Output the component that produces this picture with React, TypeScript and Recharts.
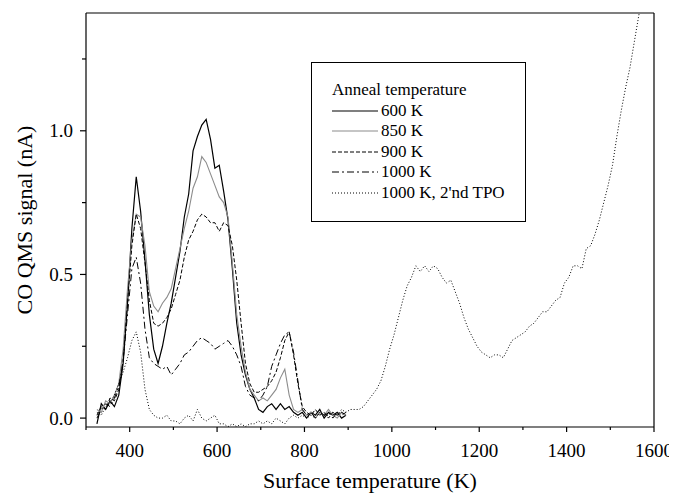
import React from "react";
import { Legend, Line, LineChart, ReferenceLine, XAxis, YAxis } from "recharts";

// sample temperatures (K) shared by the four anneal runs
const TEMPS = [
  325, 335, 345, 355, 365, 375, 385, 395, 405, 415, 425, 435, 445, 455, 465, 475, 485, 495, 505, 515,
  525, 535, 545, 555, 565, 575, 585, 595, 605, 615, 625, 635, 645, 655, 665, 675, 685, 695, 705, 715,
  725, 735, 745, 755, 765, 775, 785, 795, 805, 815, 825, 835, 845, 855, 865, 875, 885, 895,
];
// the second TPO runs on to higher temperature
const TEMPS_TPO_HIGH = [
  905, 915, 925, 935, 945, 955, 965, 975, 985, 995, 1005, 1015, 1025, 1035, 1045, 1055, 1065, 1075,
  1085, 1095, 1105, 1115, 1125, 1135, 1145, 1155, 1165, 1175, 1185, 1195, 1205, 1215, 1225, 1235,
  1245, 1255, 1265, 1275, 1285, 1295, 1305, 1315, 1325, 1335, 1345, 1355, 1365, 1375, 1385, 1395,
  1405, 1415, 1425, 1435, 1445, 1455, 1465, 1475, 1485, 1495, 1505, 1515, 1525, 1535, 1545, 1555,
  1565, 1575,
];

const K600 = [
  -0.02, 0.05, 0.03, 0.06, 0.04, 0.08, 0.19, 0.4, 0.66, 0.84, 0.72, 0.55, 0.36, 0.24, 0.19, 0.25, 0.33, 0.4, 0.49, 0.58,
  0.7, 0.78, 0.93, 0.98, 1.02, 1.04, 0.97, 0.87, 0.88, 0.79, 0.69, 0.52, 0.33, 0.22, 0.15, 0.1, 0.07, 0.03, 0.02, 0.04,
  0.05, 0.03, 0.05, 0.03, 0.04, 0.02, 0.01, 0.02, 0.0, 0.02, 0.01, 0.03, 0.0, 0.02, 0.01, 0.02, 0.0, 0.01,
];
const K850 = [
  0.03, 0.02, 0.06, 0.05, 0.08, 0.12, 0.24, 0.45, 0.62, 0.71, 0.7, 0.6, 0.44, 0.39, 0.37, 0.4, 0.42, 0.45, 0.52, 0.59,
  0.66, 0.72, 0.8, 0.84, 0.91, 0.89, 0.85, 0.81, 0.77, 0.75, 0.7, 0.54, 0.36, 0.25, 0.16, 0.1, 0.08, 0.06, 0.07, 0.06,
  0.08, 0.1, 0.14, 0.17, 0.08, 0.03, 0.02, 0.03, 0.01, 0.02, 0.0, 0.02, 0.01, 0.03, 0.01, 0.0, 0.02, 0.01,
];
const K900 = [
  0.01, 0.04, 0.03, 0.07, 0.06, 0.1, 0.2, 0.4, 0.6, 0.71, 0.66, 0.54, 0.41, 0.33, 0.32, 0.33, 0.35, 0.38, 0.43, 0.48,
  0.56, 0.62, 0.65, 0.69, 0.71, 0.7, 0.68, 0.68, 0.65, 0.68, 0.67, 0.6, 0.48, 0.33, 0.19, 0.12, 0.09, 0.09, 0.1, 0.11,
  0.13, 0.16, 0.21, 0.27, 0.3, 0.22, 0.12, 0.04, 0.02, 0.01, 0.03, 0.01, 0.02, 0.0, 0.02, 0.01, 0.02, 0.01,
];
const K1000 = [
  0.0, 0.03, 0.05, 0.04, 0.07, 0.11, 0.2, 0.36, 0.52, 0.56, 0.47, 0.31, 0.21, 0.19, 0.18, 0.17, 0.18, 0.15, 0.17, 0.19,
  0.22, 0.23, 0.25, 0.27, 0.28, 0.27, 0.26, 0.24, 0.25, 0.26, 0.27, 0.25, 0.22, 0.18, 0.11, 0.08, 0.07, 0.06, 0.08, 0.11,
  0.18, 0.22, 0.26, 0.29, 0.3, 0.23, 0.13, 0.03, 0.01, 0.02, 0.0, 0.02, 0.01, 0.02, 0.0, 0.02, 0.01, 0.02,
];
const K1000_TPO2 = [
  0.02, 0.01, 0.04, 0.05, 0.08, 0.12, 0.16, 0.21, 0.27, 0.3, 0.23, 0.1, 0.03, 0.01, 0.0, 0.0, 0.01, -0.01, -0.01, -0.02,
  0.0, 0.01, -0.01, 0.03, 0.0, -0.01, 0.0, 0.01, -0.02, -0.02, -0.03, -0.02, -0.03, -0.02, -0.03, -0.02, -0.02, -0.01, -0.02, -0.01,
  -0.02, 0.0, -0.01, -0.02, 0.0, 0.01, 0.0, 0.01, 0.0, 0.01, 0.0, 0.02, 0.01, 0.01, 0.02, 0.01, 0.03, 0.02,
  // above 900 K
  0.03, 0.03, 0.03, 0.04, 0.06, 0.08, 0.1, 0.13, 0.18, 0.24, 0.29, 0.35, 0.41, 0.46, 0.49, 0.53, 0.51, 0.53,
  0.51, 0.53, 0.52, 0.49, 0.47, 0.48, 0.44, 0.4, 0.35, 0.31, 0.28, 0.25, 0.23, 0.22, 0.21, 0.22,
  0.22, 0.21, 0.24, 0.27, 0.28, 0.29, 0.3, 0.32, 0.33, 0.35, 0.37, 0.37, 0.39, 0.41, 0.42, 0.47,
  0.49, 0.53, 0.53, 0.52, 0.59, 0.6, 0.64, 0.69, 0.75, 0.81, 0.88, 0.98, 1.07, 1.15, 1.22, 1.31,
  1.4, 1.48,
];

const X_TICKS = [300, 400, 500, 600, 700, 800, 900, 1000, 1100, 1200, 1300, 1400, 1500, 1600];
const Y_TICKS = [0, 0.25, 0.5, 0.75, 1.0, 1.25];

const toPoints = (temps: number[], vals: number[]) => temps.map((t, i) => ({ t, v: vals[i] }));

const SERIES = [
  { name: "600 K", data: toPoints(TEMPS, K600), stroke: "#000", width: 1.2, dash: undefined },
  { name: "850 K", data: toPoints(TEMPS, K850), stroke: "#8c8c8c", width: 1.1, dash: undefined },
  { name: "900 K", data: toPoints(TEMPS, K900), stroke: "#000", width: 1, dash: "4 2" },
  { name: "1000 K", data: toPoints(TEMPS, K1000), stroke: "#000", width: 1, dash: "7 3 2 3" },
  { name: "1000 K, 2'nd TPO", data: toPoints([...TEMPS, ...TEMPS_TPO_HIGH], K1000_TPO2), stroke: "#000", width: 1, dash: "1 2" },
];

const FONT = "Liberation Serif, Tinos, DejaVu Serif, Noto Serif, serif";

function XTick({ x, y, payload }: any) {
  const major = payload.value % 200 === 0;
  return (
    <g>
      <line x1={x} y1={y} x2={x} y2={y + (major ? 5 : 3)} stroke="#000" strokeWidth={1.2} />
      {major && payload.value > 300 && (
        <text x={x} y={y + 23} dy="0.35em" textAnchor="middle" fontSize={19} style={{ fontFamily: FONT }} fill="#000">
          {payload.value}
        </text>
      )}
    </g>
  );
}

function YTick({ x, y, payload }: any) {
  const major = Math.abs((payload.value * 2) % 1) < 1e-6;
  return (
    <g>
      <line x1={x - (major ? 6 : 4)} y1={y} x2={x} y2={y} stroke="#000" strokeWidth={1.2} />
      {major && (
        <text x={x - 13} y={y} dy="0.35em" textAnchor="end" fontSize={19} style={{ fontFamily: FONT }} fill="#000">
          {payload.value.toFixed(1)}
        </text>
      )}
    </g>
  );
}

function YTitle({ viewBox }: any) {
  const cy = viewBox.y + viewBox.height / 2;
  return (
    <text x={16} y={cy} transform={`rotate(-90 16 ${cy})`} dy="0.35em" textAnchor="middle" fontSize={22} style={{ fontFamily: FONT }} fill="#000">
      CO QMS signal (nA)
    </text>
  );
}

function XTitle({ viewBox }: any) {
  const cx = viewBox.x + viewBox.width / 2;
  return (
    <text x={cx} y={472} dy="0.35em" textAnchor="middle" fontSize={22} style={{ fontFamily: FONT }} fill="#000">
      Surface temperature (K)
    </text>
  );
}

function LegendBox() {
  return (
    <div
      style={{
        width: 215,
        height: 160,
        boxSizing: "border-box",
        border: "1px solid #000",
        padding: "17px 0 0 20px",
        fontFamily: FONT,
        fontSize: 17,
        lineHeight: "20.5px",
        textAlign: "left",
        background: "#fff",
        color: "#000",
      }}
    >
      <div>Anneal temperature</div>
      {SERIES.map((s) => (
        <div key={s.name} style={{ display: "flex", alignItems: "center", height: 20.5 }}>
          <svg width={46} height={10} style={{ marginRight: 3 }}>
            <line x1={0} y1={5} x2={46} y2={5} stroke={s.stroke} strokeWidth={s.width} strokeDasharray={s.dash} />
          </svg>
          <span>{s.name}</span>
        </div>
      ))}
    </div>
  );
}

export default function App() {
  return (
    <div style={{ width: 669, height: 489, fontFamily: FONT, background: "#fff" }}>
      <LineChart width={669} height={489} margin={{ top: 5, right: 23, bottom: 0, left: 0 }} style={{ fontFamily: FONT }}>
        <XAxis
          type="number"
          dataKey="t"
          domain={[300, 1600]}
          ticks={X_TICKS}
          interval={0}
          allowDataOverflow
          height={70}
          tickSize={0}
          tickMargin={0}
          tickLine={false}
          axisLine={{ stroke: "#000", strokeWidth: 1.2 }}
          tick={<XTick />}
          label={<XTitle />}
        />
        <YAxis
          type="number"
          domain={[-0.031, 1.41]}
          ticks={Y_TICKS}
          interval={0}
          allowDataOverflow
          width={78}
          tickSize={0}
          tickMargin={0}
          tickLine={false}
          axisLine={{ stroke: "#000", strokeWidth: 1.2 }}
          tick={<YTick />}
          label={<YTitle />}
        />
        <ReferenceLine y={1.41} stroke="#000" strokeWidth={1.2} />
        <ReferenceLine x={1600} stroke="#000" strokeWidth={1.2} />
        <Legend
          layout="horizontal"
          verticalAlign="middle"
          align="center"
          wrapperStyle={{ left: 303, top: 54, width: 215, height: 160 }}
          content={() => <LegendBox />}
        />
        {SERIES.map((s) => (
          <Line
            key={s.name}
            data={s.data}
            dataKey="v"
            name={s.name}
            type="linear"
            stroke={s.stroke}
            strokeWidth={s.width}
            strokeDasharray={s.dash}
            dot={false}
            activeDot={false}
            isAnimationActive={false}
          />
        ))}
      </LineChart>
    </div>
  );
}
